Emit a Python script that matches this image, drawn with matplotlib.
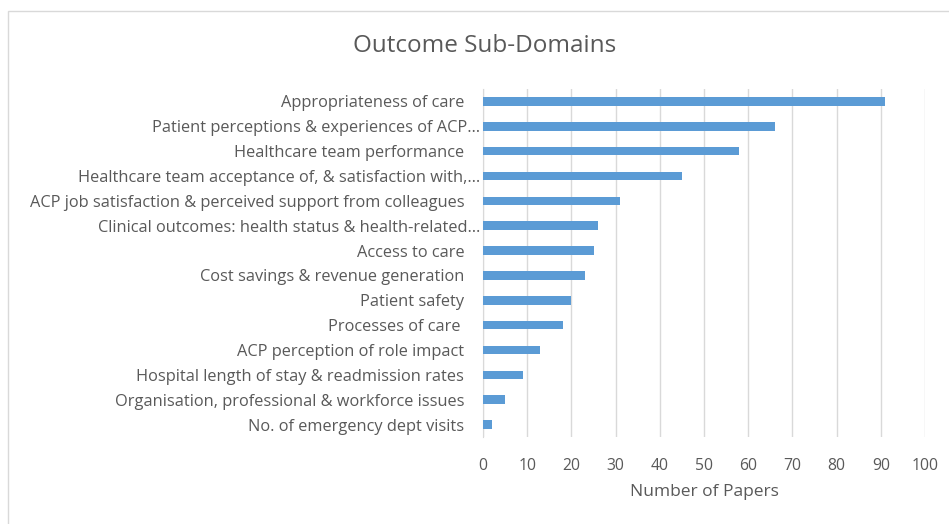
import matplotlib.pyplot as plt
import matplotlib.patches as patches
from matplotlib.transforms import ScaledTranslation

categories = [
    "Appropriateness of care ",
    "Patient perceptions & experiences of ACP\u2026",
    "Healthcare team performance ",
    "Healthcare team acceptance of, & satisfaction with,\u2026",
    "ACP job satisfaction & perceived support from colleagues ",
    "Clinical outcomes: health status & health-related\u2026",
    "Access to care ",
    "Cost savings & revenue generation ",
    "Patient safety ",
    "Processes of care  ",
    "ACP perception of role impact ",
    "Hospital length of stay & readmission rates ",
    "Organisation, professional & workforce issues ",
    "No. of emergency dept visits ",
]
papers = [91, 66, 58, 45, 31, 26, 25, 23, 20, 18, 13, 9, 5, 2]
xticks = list(range(0, 101, 10))

grey = "#595959"
plt.rcParams['font.family'] = ['Open Sans', 'DejaVu Sans']

fig = plt.figure(figsize=(9.49, 5.24), dpi=100)
ax = fig.add_axes([483 / 949, 1 - 437 / 524, 442 / 949, 348 / 524])

ypos = list(range(len(categories)))
ax.barh(ypos, papers, height=0.35, color="#5b9bd5", zorder=3)
ax.set_ylim(len(categories) - 0.5, -0.5)
ax.set_xlim(0, 100)
ax.set_xticks(xticks)
ax.set_yticks(ypos)
ax.set_yticklabels([c.rstrip() for c in categories])
ax.tick_params(axis="y", length=0, pad=2, labelsize=11.8, labelcolor=grey)
ax.tick_params(axis="x", length=0, pad=15, labelsize=11.3, labelcolor=grey)

# Excel pushes labels with trailing spaces further left
for lab, cat in zip(ax.get_yticklabels(), categories):
    n = len(cat) - len(cat.rstrip())
    if n:
        dx = -(12 + 4 * n) * 0.72
        lab.set_transform(lab.get_transform() +
                          ScaledTranslation(dx / 72, 0, fig.dpi_scale_trans))

ax.grid(axis="x", color="#d9d9d9", linewidth=1, zorder=0)
for s in ["top", "right", "bottom"]:
    ax.spines[s].set_visible(False)
ax.spines["left"].set_color("#d9d9d9")
ax.set_xlabel("Number of Papers", fontsize=12.5, color=grey, labelpad=7)

fig.text(485 / 949, 1 - 46 / 524, "Outcome Sub-Domains", fontsize=17.5,
         color=grey, ha="center", va="center")

border = patches.Rectangle((8 / 949, -0.05), 1.0, 1.05 - 11 / 524,
                           transform=fig.transFigure, fill=False,
                           edgecolor="#d9d9d9", linewidth=1)
fig.patches.append(border)

fig.savefig("out.png", dpi=100)
